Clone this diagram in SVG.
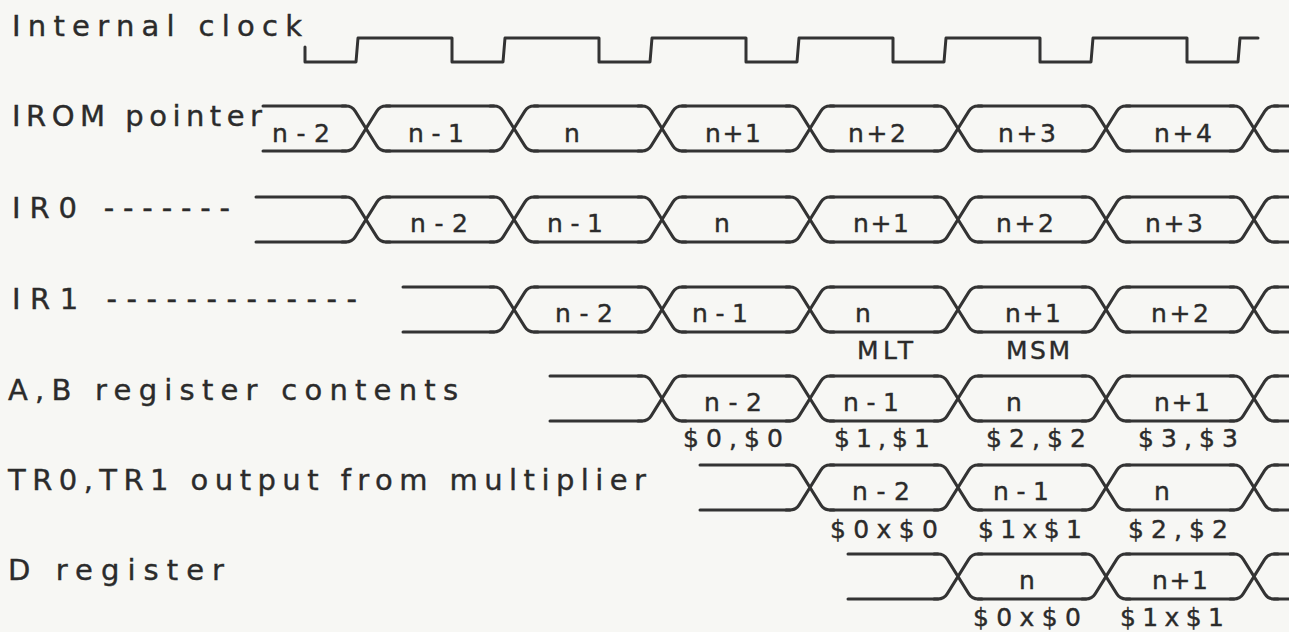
<svg xmlns="http://www.w3.org/2000/svg" xmlns:xlink="http://www.w3.org/1999/xlink" width="1289" height="632" viewBox="0 0 1289 632">
  <style>
    .sig { fill: none; stroke: #333; stroke-width: 3; stroke-linecap: round; stroke-linejoin: round; }
    .lbl { font-family: "DejaVu Sans", "Liberation Sans", sans-serif; font-size: 29px; fill: #2b2b2b; stroke: #2b2b2b; stroke-width: 0.4; }
    .val { font-family: "DejaVu Sans", "Liberation Sans", sans-serif; font-size: 25px; fill: #2b2b2b; stroke: #2b2b2b; stroke-width: 0.4; text-anchor: middle; }
  </style>
  <defs>
    <!-- bus transition: two curved strokes crossing between top (y=0) and bottom (y=45) -->
    <path id="xg" class="sig" d="M-24,0 H-20 Q-14,0 -10.83,5.09 L10.83,39.91 Q14,45 20,45 H24 M-24,45 H-20 Q-14,45 -10.83,39.91 L10.83,5.09 Q14,0 20,0 H24"/>
  </defs>
  <rect width="1289" height="632" fill="#f7f7f4"/>

  <!-- signal names -->
  <g id="names">
    <text class="lbl" x="12" y="36" textLength="290" lengthAdjust="spacing">Internal clock</text>
    <text class="lbl" x="12" y="126" textLength="250" lengthAdjust="spacing">IROM pointer</text>
    <text class="lbl" x="12" y="218" textLength="218" lengthAdjust="spacing">IR0 -------</text>
    <text class="lbl" x="12" y="309" textLength="345" lengthAdjust="spacing">IR1 -------------</text>
    <text class="lbl" x="8" y="400" textLength="450" lengthAdjust="spacing">A,B register contents</text>
    <text class="lbl" x="8" y="490" textLength="638" lengthAdjust="spacing">TR0,TR1 output from multiplier</text>
    <text class="lbl" x="8" y="580" textLength="216" lengthAdjust="spacing">D register</text>
  </g>

  <!-- clock waveform -->
  <g id="clock">
    <path class="sig" d="M305,47 V62 H356 L358,38 H452 V62 H503 L505,38 H599 V62 H650 L652,38 H746 V62 H797 L799,38 H893 V62 H944 L946,38 H1040 V62 H1091 L1093,38 H1187 V62 H1238 L1240,38 H1258"/>
  </g>

  <!-- IROM pointer -->
  <g id="irom">
    <path class="sig" d="M263,106 H346 M386,106 H494 M534,106 H642 M682,106 H790 M830,106 H938 M978,106 H1086 M1126,106 H1234 M1274,106 H1290 M263,151 H346 M386,151 H494 M534,151 H642 M682,151 H790 M830,151 H938 M978,151 H1086 M1126,151 H1234 M1274,151 H1290"/>
    <use xlink:href="#xg" x="366" y="106"/>
    <use xlink:href="#xg" x="514" y="106"/>
    <use xlink:href="#xg" x="662" y="106"/>
    <use xlink:href="#xg" x="810" y="106"/>
    <use xlink:href="#xg" x="958" y="106"/>
    <use xlink:href="#xg" x="1106" y="106"/>
    <use xlink:href="#xg" x="1254" y="106"/>
    <text class="val" x="301" y="142" textLength="58">n-2</text>
    <text class="val" x="436" y="142" textLength="56">n-1</text>
    <text class="val" x="572" y="142">n</text>
    <text class="val" x="733" y="142" textLength="56">n+1</text>
    <text class="val" x="877" y="142" textLength="58">n+2</text>
    <text class="val" x="1027" y="142" textLength="58">n+3</text>
    <text class="val" x="1183" y="142" textLength="58">n+4</text>
  </g>

  <!-- IR0 -->
  <g id="ir0">
    <path class="sig" d="M256,197 H346 M386,197 H494 M534,197 H642 M682,197 H790 M830,197 H938 M978,197 H1086 M1126,197 H1234 M1274,197 H1290 M256,242 H346 M386,242 H494 M534,242 H642 M682,242 H790 M830,242 H938 M978,242 H1086 M1126,242 H1234 M1274,242 H1290"/>
    <use xlink:href="#xg" x="366" y="197"/>
    <use xlink:href="#xg" x="514" y="197"/>
    <use xlink:href="#xg" x="662" y="197"/>
    <use xlink:href="#xg" x="810" y="197"/>
    <use xlink:href="#xg" x="958" y="197"/>
    <use xlink:href="#xg" x="1106" y="197"/>
    <use xlink:href="#xg" x="1254" y="197"/>
    <text class="val" x="439" y="232" textLength="58">n-2</text>
    <text class="val" x="575" y="232" textLength="56">n-1</text>
    <text class="val" x="722" y="232">n</text>
    <text class="val" x="881" y="232" textLength="56">n+1</text>
    <text class="val" x="1025" y="232" textLength="58">n+2</text>
    <text class="val" x="1174" y="232" textLength="58">n+3</text>
  </g>

  <!-- IR1 -->
  <g id="ir1">
    <path class="sig" d="M403,287 H494 M534,287 H642 M682,287 H790 M830,287 H938 M978,287 H1086 M1126,287 H1234 M1274,287 H1290 M403,332 H494 M534,332 H642 M682,332 H790 M830,332 H938 M978,332 H1086 M1126,332 H1234 M1274,332 H1290"/>
    <use xlink:href="#xg" x="514" y="287"/>
    <use xlink:href="#xg" x="662" y="287"/>
    <use xlink:href="#xg" x="810" y="287"/>
    <use xlink:href="#xg" x="958" y="287"/>
    <use xlink:href="#xg" x="1106" y="287"/>
    <use xlink:href="#xg" x="1254" y="287"/>
    <text class="val" x="584" y="322" textLength="58">n-2</text>
    <text class="val" x="720" y="322" textLength="56">n-1</text>
    <text class="val" x="863" y="322">n</text>
    <text class="val" x="1033" y="322" textLength="56">n+1</text>
    <text class="val" x="1180" y="322" textLength="58">n+2</text>
    <text class="val" x="885" y="359" textLength="56">MLT</text>
    <text class="val" x="1038" y="359" textLength="64">MSM</text>
  </g>

  <!-- A,B registers -->
  <g id="ab">
    <path class="sig" d="M550,376 H642 M682,376 H790 M830,376 H938 M978,376 H1086 M1126,376 H1234 M1274,376 H1290 M550,421 H642 M682,421 H790 M830,421 H938 M978,421 H1086 M1126,421 H1234 M1274,421 H1290"/>
    <use xlink:href="#xg" x="662" y="376"/>
    <use xlink:href="#xg" x="810" y="376"/>
    <use xlink:href="#xg" x="958" y="376"/>
    <use xlink:href="#xg" x="1106" y="376"/>
    <use xlink:href="#xg" x="1254" y="376"/>
    <text class="val" x="733" y="411" textLength="58">n-2</text>
    <text class="val" x="871" y="411" textLength="56">n-1</text>
    <text class="val" x="1014" y="411">n</text>
    <text class="val" x="1182" y="411" textLength="56">n+1</text>
    <text class="val" x="733" y="447" textLength="100">$0,$0</text>
    <text class="val" x="882" y="447" textLength="96">$1,$1</text>
    <text class="val" x="1036" y="447" textLength="100">$2,$2</text>
    <text class="val" x="1188" y="447" textLength="100">$3,$3</text>
  </g>

  <!-- TR0,TR1 -->
  <g id="tr">
    <path class="sig" d="M700,465 H790 M830,465 H938 M978,465 H1086 M1126,465 H1234 M1274,465 H1290 M700,510 H790 M830,510 H938 M978,510 H1086 M1126,510 H1234 M1274,510 H1290"/>
    <use xlink:href="#xg" x="810" y="465"/>
    <use xlink:href="#xg" x="958" y="465"/>
    <use xlink:href="#xg" x="1106" y="465"/>
    <use xlink:href="#xg" x="1254" y="465"/>
    <text class="val" x="881" y="500" textLength="58">n-2</text>
    <text class="val" x="1021" y="500" textLength="56">n-1</text>
    <text class="val" x="1162" y="500">n</text>
    <text class="val" x="884" y="538" textLength="108">$0x$0</text>
    <text class="val" x="1030" y="538" textLength="104">$1x$1</text>
    <text class="val" x="1178" y="538" textLength="100">$2,$2</text>
  </g>

  <!-- D register -->
  <g id="d">
    <path class="sig" d="M848,554 H938 M978,554 H1086 M1126,554 H1234 M1274,554 H1290 M848,599 H938 M978,599 H1086 M1126,599 H1234 M1274,599 H1290"/>
    <use xlink:href="#xg" x="958" y="554"/>
    <use xlink:href="#xg" x="1106" y="554"/>
    <use xlink:href="#xg" x="1254" y="554"/>
    <text class="val" x="1027" y="589">n</text>
    <text class="val" x="1180" y="589" textLength="56">n+1</text>
    <text class="val" x="1027" y="626" textLength="108">$0x$0</text>
    <text class="val" x="1172" y="626" textLength="104">$1x$1</text>
  </g>
</svg>
